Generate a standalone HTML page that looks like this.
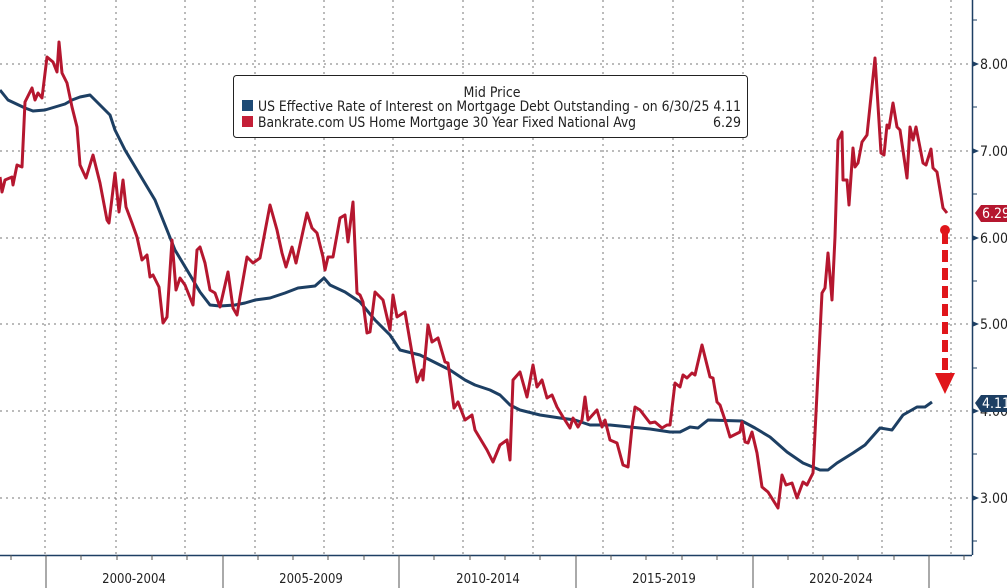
<!DOCTYPE html>
<html><head><meta charset="utf-8"><style>
html,body{margin:0;padding:0;background:#fff;}
svg{display:block;font-family:"DejaVu Sans Condensed","Liberation Sans",sans-serif;}
</style></head><body>
<svg width="1007" height="588" viewBox="0 0 1007 588" xmlns="http://www.w3.org/2000/svg">
<rect width="1007" height="588" fill="#fff"/>
<g stroke="#777" stroke-width="1" stroke-dasharray="2,4" fill="none">
<line x1="0" y1="64" x2="972" y2="64"/><line x1="0" y1="151" x2="972" y2="151"/>
<line x1="0" y1="238" x2="972" y2="238"/><line x1="0" y1="324" x2="972" y2="324"/>
<line x1="0" y1="411" x2="972" y2="411"/><line x1="0" y1="498" x2="972" y2="498"/>
<line x1="45" y1="0" x2="45" y2="555"/><line x1="116" y1="0" x2="116" y2="555"/>
<line x1="185" y1="0" x2="185" y2="555"/><line x1="255" y1="0" x2="255" y2="555"/>
<line x1="324" y1="0" x2="324" y2="555"/><line x1="393" y1="0" x2="393" y2="555"/>
<line x1="463" y1="0" x2="463" y2="555"/><line x1="533" y1="0" x2="533" y2="555"/>
<line x1="603" y1="0" x2="603" y2="555"/><line x1="673" y1="0" x2="673" y2="555"/>
<line x1="743" y1="0" x2="743" y2="555"/><line x1="813" y1="0" x2="813" y2="555"/>
<line x1="882" y1="0" x2="882" y2="555"/><line x1="951" y1="0" x2="951" y2="555"/>
</g>
<polyline fill="none" stroke="#1d3f63" stroke-width="3" stroke-linejoin="round" points="0,90 8,100 25,108 33,111 45,110 55,107 65,104 72,100 80,97 90,95 100,105 110,115 115,130 125,150 140,175 155,200 165,225 175,250 190,275 200,292 210,305 220,306 235,305 245,303 255,300 270,298 285,293 298,288 315,286 324,278 330,285 345,292 360,302 375,320 390,335 400,350 420,355 440,365 450,370 465,380 475,385 490,390 500,395 510,405 520,410 540,415 560,418 575,420 590,425 610,425 630,427 650,429 670,432 680,432 690,427 698,428 708,420 742,421 755,428 770,437 787,452 803,463 820,470 828,470 837,463 853,453 865,445 880,428 892,430 903,415 917,407 925,407 932,402"/>
<polyline fill="none" stroke="#b5172f" stroke-width="3" stroke-linejoin="round" points="0,177 2,192 5,180 12,177 13,185 17,165 22,167 25,102 32,88 35,100 38,93 42,98 47,57 53,62 57,72 59,42 62,73 67,83 72,107 77,127 80,165 86,178 93,155 100,183 107,220 109,223 115,173 119,212 123,180 126,207 132,223 137,237 142,260 147,255 150,277 153,275 159,287 163,323 167,317 172,240 176,290 180,278 185,285 193,305 197,250 200,247 205,263 210,290 215,293 220,307 228,272 233,308 237,315 240,297 247,257 253,263 260,258 270,205 277,230 282,253 286,267 292,247 296,263 307,213 312,228 317,233 323,257 325,270 328,257 333,257 340,218 345,215 348,242 353,202 357,293 360,295 363,302 367,333 370,332 375,292 383,300 390,330 393,295 397,317 405,312 412,353 417,382 422,370 423,380 428,325 432,342 438,338 445,362 448,363 454,408 458,402 465,420 472,415 475,430 487,450 493,462 500,445 507,440 510,460 513,380 520,372 527,397 533,365 537,387 542,380 547,398 552,395 557,407 563,417 570,428 573,418 578,427 582,420 585,397 588,420 597,410 602,427 605,420 610,440 617,443 623,465 628,467 632,427 635,407 640,410 650,423 655,422 662,428 667,425 670,425 675,383 680,387 683,375 687,378 692,373 695,375 702,345 710,377 713,378 717,402 720,405 725,420 730,437 740,432 742,422 745,442 748,443 752,432 757,453 762,487 768,492 773,500 778,508 782,475 786,485 792,483 797,498 803,482 807,485 813,473 822,293 825,288 828,253 832,300 835,237 838,140 842,132 843,180 847,180 849,205 853,148 855,167 858,163 862,142 867,135 875,58 881,153 884,155 887,125 889,128 893,103 897,127 900,130 907,178 910,127 913,140 916,127 923,163 926,165 931,149 933,168 937,172 943,208 947,213"/>
<circle cx="945" cy="230" r="5" fill="#e0161b"/>
<line x1="945" y1="232" x2="945" y2="374" stroke="#e0161b" stroke-width="6" stroke-dasharray="12,6"/>
<polygon points="935,373 955,373 945,394" fill="#e0161b"/>
<rect x="233.5" y="75.5" width="514" height="62" rx="3" fill="#fff" stroke="#222" stroke-width="1"/>
<text x="492" y="97" font-size="14" text-anchor="middle" fill="#222">Mid Price</text>
<rect x="242" y="100" width="11" height="11" fill="#1d4a75"/>
<rect x="242" y="116" width="11" height="11" fill="#c41f37"/>
<text x="258" y="111" font-size="14" fill="#222" textLength="483" lengthAdjust="spacingAndGlyphs">US Effective Rate of Interest on Mortgage Debt Outstanding -  on 6/30/25 4.11</text>
<text x="741" y="127" font-size="14" fill="#222" text-anchor="end">6.29</text>
<text x="258" y="127" font-size="14" fill="#222" textLength="378" lengthAdjust="spacingAndGlyphs">Bankrate.com US Home Mortgage 30 Year Fixed National Avg</text>
<line x1="972.5" y1="0" x2="972.5" y2="555" stroke="#1d3f63" stroke-width="1.5"/>
<g fill="#1d3f63">
<polygon points="972,61 979,64 972,67"/><polygon points="972,148 979,151 972,154"/>
<polygon points="972,235 979,238 972,241"/><polygon points="972,321 979,324 972,327"/>
<polygon points="972,408 979,411 972,414"/><polygon points="972,495 979,498 972,501"/>
</g>
<g stroke="#1d3f63" stroke-width="1">
<line x1="972" y1="20" x2="977" y2="20"/><line x1="972" y1="107" x2="977" y2="107"/>
<line x1="972" y1="194" x2="977" y2="194"/><line x1="972" y1="281" x2="977" y2="281"/>
<line x1="972" y1="368" x2="977" y2="368"/><line x1="972" y1="454" x2="977" y2="454"/>
<line x1="972" y1="541" x2="977" y2="541"/>
</g>
<g font-size="14" fill="#222">
<text x="980" y="69">8.00</text><text x="980" y="156">7.00</text>
<text x="980" y="243">6.00</text><text x="980" y="329">5.00</text>
<text x="980" y="416">4.00</text><text x="980" y="503">3.00</text>
</g>
<polygon points="975,213 981,205 1007,205 1007,222 981,222" fill="#b5172f"/>
<text x="982" y="218" font-size="14" fill="#fff">6.29</text>
<polygon points="975,403 981,395 1007,395 1007,412 981,412" fill="#1d3f63"/>
<text x="982" y="408" font-size="14" fill="#fff">4.11</text>
<line x1="0" y1="555.5" x2="972" y2="555.5" stroke="#1d3f63" stroke-width="1.5"/>
<g stroke="#555" stroke-width="1">
<line x1="46" y1="555" x2="46" y2="588"/><line x1="223" y1="555" x2="223" y2="588"/>
<line x1="399" y1="555" x2="399" y2="588"/><line x1="576" y1="555" x2="576" y2="588"/>
<line x1="753" y1="555" x2="753" y2="588"/><line x1="929" y1="555" x2="929" y2="588"/>
<line x1="11" y1="555" x2="11" y2="560"/><line x1="81" y1="555" x2="81" y2="560"/>
<line x1="117" y1="555" x2="117" y2="560"/><line x1="152" y1="555" x2="152" y2="560"/>
<line x1="187" y1="555" x2="187" y2="560"/><line x1="258" y1="555" x2="258" y2="560"/>
<line x1="293" y1="555" x2="293" y2="560"/><line x1="328" y1="555" x2="328" y2="560"/>
<line x1="364" y1="555" x2="364" y2="560"/><line x1="434" y1="555" x2="434" y2="560"/>
<line x1="470" y1="555" x2="470" y2="560"/><line x1="505" y1="555" x2="505" y2="560"/>
<line x1="540" y1="555" x2="540" y2="560"/><line x1="611" y1="555" x2="611" y2="560"/>
<line x1="646" y1="555" x2="646" y2="560"/><line x1="682" y1="555" x2="682" y2="560"/>
<line x1="717" y1="555" x2="717" y2="560"/><line x1="788" y1="555" x2="788" y2="560"/>
<line x1="823" y1="555" x2="823" y2="560"/><line x1="858" y1="555" x2="858" y2="560"/>
<line x1="894" y1="555" x2="894" y2="560"/><line x1="964" y1="555" x2="964" y2="560"/>
</g>
<g font-size="13" fill="#222" text-anchor="middle">
<text x="134" y="583">2000-2004</text><text x="311" y="583">2005-2009</text>
<text x="488" y="583">2010-2014</text><text x="664" y="583">2015-2019</text>
<text x="841" y="583">2020-2024</text>
</g>
</svg>
</body></html>
